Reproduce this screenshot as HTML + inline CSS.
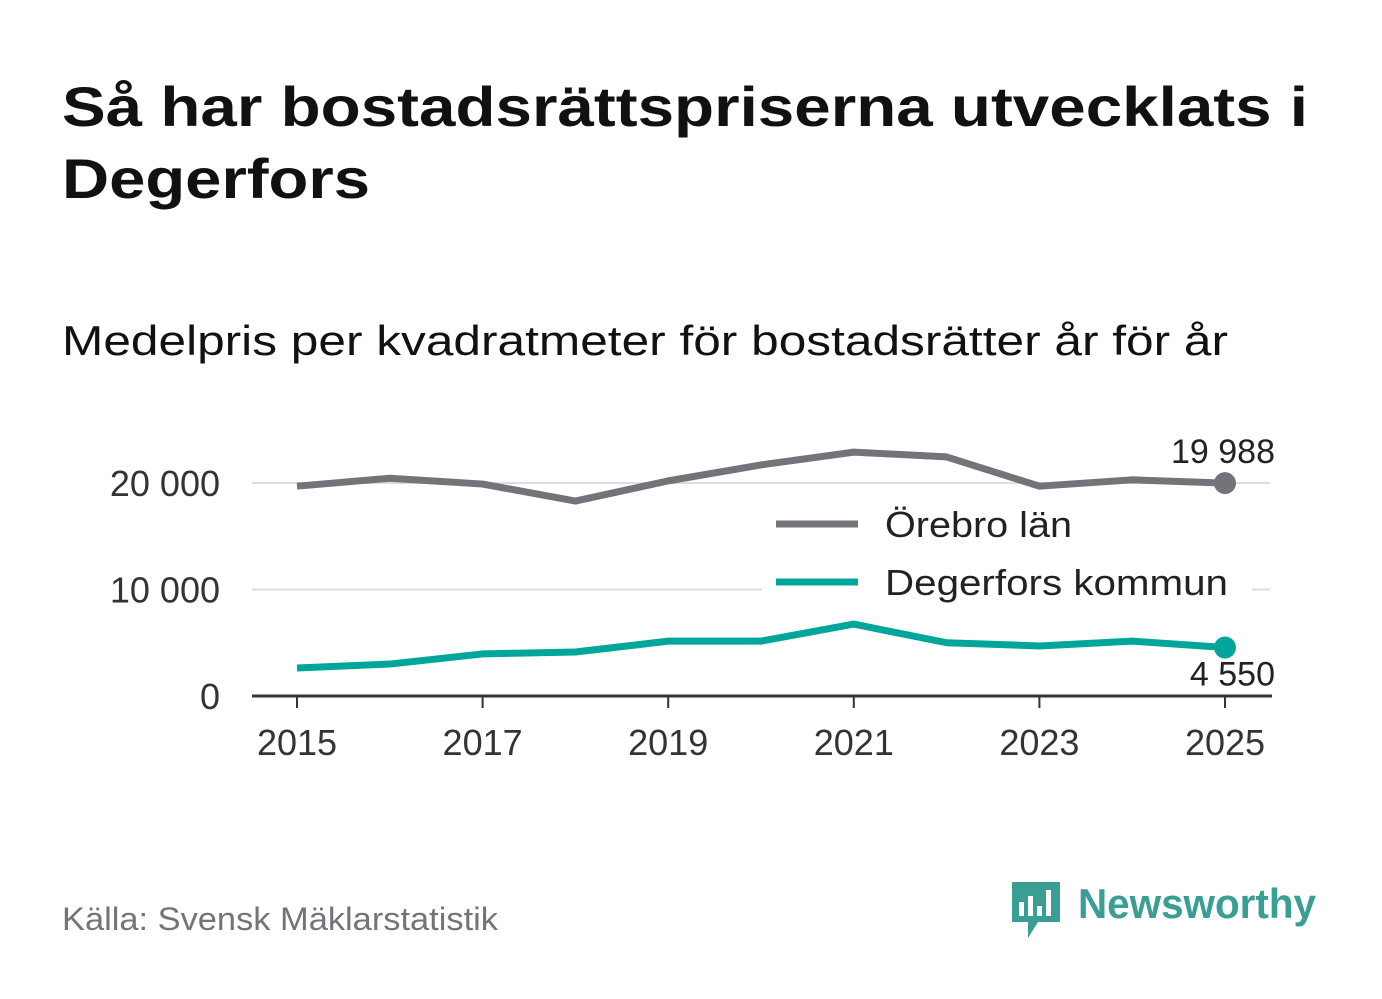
<!DOCTYPE html>
<html><head><meta charset="utf-8"><style>
html,body{margin:0;padding:0;background:#fff;}
svg{display:block;font-family:"Liberation Sans",sans-serif;}
</style></head><body>
<svg width="1382" height="999" viewBox="0 0 1382 999">
<text x="62" y="126" font-size="56" font-weight="bold" fill="#111" textLength="1246" lengthAdjust="spacingAndGlyphs">Så har bostadsrättspriserna utvecklats i</text>
<text x="62" y="198" font-size="56" font-weight="bold" fill="#111" textLength="308" lengthAdjust="spacingAndGlyphs">Degerfors</text>
<text x="62" y="355" font-size="42" fill="#111" textLength="1166" lengthAdjust="spacingAndGlyphs">Medelpris per kvadratmeter för bostadsrätter år för år</text>
<g id="grid"></g>
<g id="marks"></g>
<g>
<rect x="762" y="500" width="490" height="110" fill="#fff"/>
<line x1="776" y1="524" x2="858" y2="524" stroke="#747379" stroke-width="7"/>
<text x="885" y="537" font-size="36" fill="#222" textLength="187" lengthAdjust="spacingAndGlyphs">Örebro län</text>
<line x1="776" y1="582" x2="858" y2="582" stroke="#00a69c" stroke-width="7"/>
<text x="885" y="595" font-size="36" fill="#222" textLength="343" lengthAdjust="spacingAndGlyphs">Degerfors kommun</text>
</g>
<text x="62" y="930" font-size="32" fill="#747379" textLength="436" lengthAdjust="spacingAndGlyphs">Källa: Svensk Mäklarstatistik</text>
<g>
<path d="M1012 882 h48 v40 h-22 l-10 16 v-16 h-16 z" fill="#3a9e95"/>
<rect x="1019" y="902" width="5" height="14" fill="#fff"/><rect x="1028" y="896" width="5" height="20" fill="#fff"/><rect x="1037" y="906" width="5" height="10" fill="#fff"/><rect x="1046" y="890" width="5" height="26" fill="#fff"/>
<text x="1078" y="918" font-size="42" font-weight="bold" fill="#3a9e95" textLength="238" lengthAdjust="spacingAndGlyphs">Newsworthy</text>
</g>
</svg>
<script>
const years=[2015,2016,2017,2018,2019,2020,2021,2022,2023,2024,2025];
const orebro=[19700,20450,19900,18300,20200,21700,22900,22450,19700,20300,19988];
const degerfors=[2630,3000,3950,4130,5150,5150,6750,5000,4700,5150,4550];
const yTicks=[0,10000,20000];
const yTickLabels=["0","10 000","20 000"];
const xTicks=[2015,2017,2019,2021,2023,2025];
const NS="http://www.w3.org/2000/svg";
const x=v=>297+(v-2015)*92.8;
const y=v=>696-v*0.01065;
function mk(t,a,p){const e=document.createElementNS(NS,t);for(const k in a)e.setAttribute(k,a[k]);p.appendChild(e);return e;}
const g=document.getElementById('grid'),m=document.getElementById('marks');
yTicks.forEach((v,i)=>{
 if(v>0){const l=mk('line',{x1:252,x2:1270,y1:y(v),y2:y(v),stroke:'#ddd','stroke-width':2},g);
 
 }
 const t=mk('text',{x:220,y:y(v)+13,'font-size':36,fill:'#333','text-anchor':'end'},g);
 t.textContent=yTickLabels[i];
 
 
});
const ax=mk('line',{x1:252,x2:1272,y1:696,y2:696,stroke:'#333','stroke-width':3},g);


xTicks.forEach(v=>{
 const tk=mk('line',{x1:x(v),x2:x(v),y1:696,y2:708,stroke:'#333','stroke-width':2},g);
 
 
 const t=mk('text',{x:x(v),y:755,'font-size':36,fill:'#333','text-anchor':'middle'},g);
 t.textContent=v;
 
 
});
function series(vals,col,name,lab,ly){
 const p=mk('polyline',{points:vals.map((v,i)=>x(years[i])+','+y(v)).join(' '),fill:'none',stroke:col,'stroke-width':7,'stroke-linejoin':'round'},m);
 
 
 const n=vals.length-1;
 const c=mk('circle',{cx:x(years[n]),cy:y(vals[n]),r:11,fill:col},m);
 
 
 const t=mk('text',{x:x(years[n])+50,y:y(vals[n])+ly,'font-size':34,fill:'#222','text-anchor':'end'},m);
 t.textContent=lab;
 
 
}
series(orebro,'#747379','orebro','19 988',-20);
series(degerfors,'#00a69c','degerfors','4 550',38);
</script>
</body></html>
